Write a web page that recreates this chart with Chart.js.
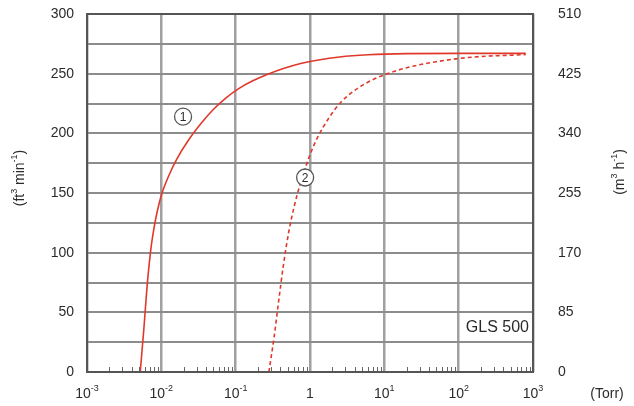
<!DOCTYPE html>
<html>
<head>
  <title>GLS 500 pumping speed</title>
  <script src="https://cdn.jsdelivr.net/npm/chart.js"></script>
  <style>
    body { margin: 0; background: #fff; }
  </style>
</head>
<body>
<canvas id="myChart" width="634" height="406"></canvas>

<script>
  // curve 1 (solid) and curve 2 (dashed): pressure in Torr, speed in ft3/min
  const pressure1 = [0.0052, 0.0058, 0.0065, 0.0073, 0.0082, 0.009, 0.0101, 0.0125, 0.016, 0.023, 0.035, 0.05, 0.075, 0.11, 0.17, 0.27, 0.45, 0.75, 1.3, 2.5, 6, 20, 100, 800];
  const speed1 = [0, 35, 75, 105, 125, 137, 149, 164, 178, 194, 209, 220, 230, 237.5, 244, 249.5, 254.5, 258.5, 261.5, 264, 265.8, 266.8, 267, 267];
  const pressure2 = [0.28, 0.33, 0.38, 0.44, 0.52, 0.62, 0.75, 1.0, 1.25, 1.8, 2.6, 4, 6.5, 10, 20, 50, 150, 800];
  const speed2 = [0, 30, 60, 90, 118, 140, 159, 182, 196, 213, 226, 236, 244, 249, 255, 260, 263.8, 266];

  const xDecades = [0.001, 0.01, 0.1, 1, 10, 100, 1000];
  const xTickLabels = [['10', '-3'], ['10', '-2'], ['10', '-1'], ['1', ''], ['10', '1'], ['10', '2'], ['10', '3']];
  const rightTicks = [0, 85, 170, 255, 340, 425, 510];

  // where the circled curve numbers sit (Torr, ft3/min)
  const curveTags = [{ x: 0.0196, y: 214, text: '1' }, { x: 0.86, y: 163, text: '2' }];

  const FONT = '"Liberation Sans", Arial, sans-serif';
  const INK = '#2b2b2b';

  // draws text made of [text, isSup] pieces, centred on (x, y)
  function drawParts(ctx, parts, x, y, size) {
    const supSize = Math.round(size * 0.65);
    let total = 0;
    parts.forEach(p => {
      ctx.font = (p[1] ? supSize : size) + 'px ' + FONT;
      total += ctx.measureText(p[0]).width;
    });
    let cx = x - total / 2;
    ctx.textAlign = 'left';
    ctx.textBaseline = 'middle';
    parts.forEach(p => {
      ctx.font = (p[1] ? supSize : size) + 'px ' + FONT;
      ctx.fillText(p[0], cx, p[1] ? y - size * 0.4 : y);
      cx += ctx.measureText(p[0]).width;
    });
  }

  const decorPlugin = {
    id: 'decor',
    afterDraw(chart) {
      const ctx = chart.ctx;
      const a = chart.chartArea;
      const xs = chart.scales.x;
      const ys = chart.scales.y;
      ctx.save();

      // minor ticks along the bottom
      ctx.strokeStyle = '#666';
      ctx.lineWidth = 1;
      for (let e = -3; e < 3; e++) {
        for (let k = 2; k <= 9; k++) {
          const px = Math.round(xs.getPixelForValue(k * Math.pow(10, e))) + 0.5;
          ctx.beginPath();
          ctx.moveTo(px, a.bottom);
          ctx.lineTo(px, a.bottom - 5);
          ctx.stroke();
        }
      }

      // frame
      ctx.strokeStyle = '#555';
      ctx.lineWidth = 2;
      ctx.strokeRect(a.left, a.top, a.right - a.left, a.bottom - a.top);

      ctx.fillStyle = INK;
      // x tick labels with superscripts
      xDecades.forEach((v, i) => {
        const lab = xTickLabels[i];
        drawParts(ctx, [[lab[0], false], [lab[1], true]], xs.getPixelForValue(v), a.bottom + 22, 14);
      });
      ctx.font = '14px ' + FONT;
      ctx.textAlign = 'center';
      ctx.textBaseline = 'middle';
      ctx.fillText('(Torr)', 607, a.bottom + 22);

      // axis titles
      ctx.save();
      ctx.translate(20, 178);
      ctx.rotate(-Math.PI / 2);
      drawParts(ctx, [['(ft', false], ['3', true], [' min', false], ['-1', true], [')', false]], 0, 0, 14);
      ctx.restore();
      ctx.save();
      ctx.translate(620, 172);
      ctx.rotate(-Math.PI / 2);
      drawParts(ctx, [['(m', false], ['3', true], [' h', false], ['-1', true], [')', false]], 0, 0, 14);
      ctx.restore();

      // model name
      ctx.font = '16px ' + FONT;
      ctx.textAlign = 'right';
      ctx.textBaseline = 'middle';
      ctx.fillText('GLS 500', a.right - 4, 328);

      // circled curve numbers
      curveTags.forEach(t => {
        const px = xs.getPixelForValue(t.x);
        const py = ys.getPixelForValue(t.y);
        ctx.beginPath();
        ctx.arc(px, py, 8.5, 0, Math.PI * 2);
        ctx.fillStyle = '#fff';
        ctx.fill();
        ctx.strokeStyle = '#555';
        ctx.lineWidth = 1.3;
        ctx.stroke();
        ctx.fillStyle = INK;
        ctx.font = '12px ' + FONT;
        ctx.textAlign = 'center';
        ctx.fillText(t.text, px, py + 1);
      });
      ctx.restore();
    }
  };

  new Chart(document.getElementById('myChart'), {
    type: 'scatter',
    data: {
      datasets: [
        {
          label: 'curve 1',
          data: pressure1.map((p, i) => ({ x: p, y: speed1[i] })),
          showLine: true,
          borderColor: '#e0392b',
          borderWidth: 1.6,
          pointRadius: 0,
          cubicInterpolationMode: 'monotone'
        },
        {
          label: 'curve 2',
          data: pressure2.map((p, i) => ({ x: p, y: speed2[i] })),
          showLine: true,
          borderColor: '#e0392b',
          borderWidth: 1.6,
          borderDash: [4, 3],
          pointRadius: 0,
          cubicInterpolationMode: 'monotone'
        }
      ]
    },
    options: {
      responsive: false,
      animation: false,
      devicePixelRatio: 1,
      layout: { padding: { top: 0, left: 0, right: 0, bottom: 0 } },
      plugins: { legend: { display: false }, tooltip: { enabled: false } },
      scales: {
        x: {
          type: 'logarithmic',
          min: 0.001,
          max: 1000,
          afterBuildTicks: s => { s.ticks = xDecades.map(v => ({ value: v })); },
          afterFit: s => { s.height = 34; },
          ticks: { display: false },
          grid: { color: '#a0a0a0', lineWidth: 2.5, drawTicks: false },
          border: { display: false }
        },
        y: {
          position: 'left',
          min: 0,
          max: 300,
          afterFit: s => { s.width = 87; s.paddingTop = 14; },
          ticks: {
            stepSize: 25,
            padding: 13,
            color: INK,
            font: { family: FONT, size: 14 },
            callback: v => (v % 50 === 0 ? v : '')
          },
          grid: { color: '#8c8c8c', lineWidth: 2, drawTicks: false },
          border: { display: false }
        },
        y2: {
          position: 'right',
          min: 0,
          max: 510,
          afterBuildTicks: s => { s.ticks = rightTicks.map(v => ({ value: v })); },
          afterFit: s => { s.width = 101; s.paddingTop = 14; },
          ticks: { padding: 25, color: INK, font: { family: FONT, size: 14 } },
          grid: { drawOnChartArea: false, drawTicks: false },
          border: { display: false }
        }
      }
    },
    plugins: [decorPlugin]
  });
</script>
</body>
</html>
